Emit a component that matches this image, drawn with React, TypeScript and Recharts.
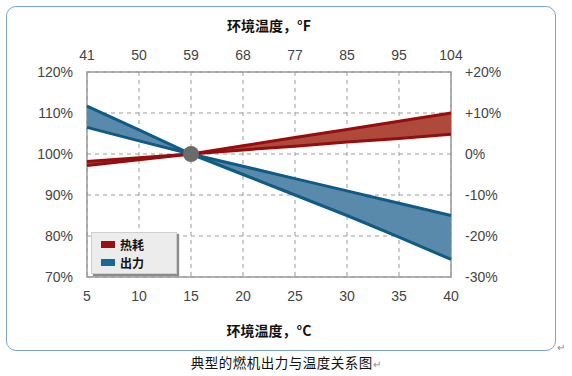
import React from "react";
import { Area, CartesianGrid, ComposedChart, Line, ReferenceArea, ReferenceDot, XAxis, YAxis } from "recharts";

const celsius = [5, 10, 15, 20, 25, 30, 35, 40];
const fahrenheitLabels = ["41", "50", "59", "68", "77", "85", "95", "104"];
const leftTicks = [70, 80, 90, 100, 110, 120];
const rightTicks = [-30, -20, -10, 0, 10, 20];

// 热耗 band edges (% of rated)
const heatSteep = [97.2, 98.6, 100, 102, 104, 106, 108, 110];
const heatFlat = [98.2, 99.1, 100, 101, 101.9, 102.9, 103.8, 104.8];
// 出力 band edges
const powerSteep = [111.7, 105.9, 100, 95, 90, 85, 79.7, 74.3];
const powerFlat = [106.5, 103.2, 100, 97, 94, 91, 88, 85];

const data = celsius.map((c, i) => ({
  c,
  heatSteep: heatSteep[i],
  heatFlat: heatFlat[i],
  heatBand: [heatSteep[i], heatFlat[i]],
  powerSteep: powerSteep[i],
  powerFlat: powerFlat[i],
  powerBand: [powerSteep[i], powerFlat[i]],
  // same curve expressed as deviation, keeps the right-hand axis attached
  powerDelta: powerFlat[i] - 100,
}));

const tickStyle = { fill: "#444", fontSize: 14, fontFamily: "Liberation Sans, Arial, sans-serif" };
const RED_LINE = "#960d0d";
const RED_FILL = "#ad4a3b";
const BLUE_LINE = "#0e5b86";
const BLUE_FILL = "#5a8aab";

export default function App() {
  return (
    <div style={{ position: "absolute", left: 0, top: 0, width: 572, height: 376, background: "#fff", fontFamily: "Noto Sans CJK SC, sans-serif" }}>
      <div
        style={{
          position: "absolute",
          left: 6,
          top: 6,
          width: 548,
          height: 343,
          border: "1px solid #7aa3dc",
          borderRadius: 10,
        }}
      />
      <ComposedChart
        width={572}
        height={376}
        data={data}
        margin={{ top: 42, right: 61, bottom: 69, left: 27 }}
        style={{ position: "absolute", left: 0, top: 0 }}
      >
        <CartesianGrid stroke="#9a9a9a" strokeDasharray="4 4" xAxisId="bottom" yAxisId="left" />
        <XAxis
          xAxisId="bottom"
          dataKey="c"
          type="number"
          domain={[5, 40]}
          ticks={celsius}
          axisLine={false}
          tickLine={false}
          tickSize={0}
          tickMargin={14}
          height={30}
          tick={tickStyle}
        />
        <XAxis
          xAxisId="top"
          orientation="top"
          dataKey="c"
          type="number"
          domain={[5, 40]}
          ticks={celsius}
          tickFormatter={(v: number) => fahrenheitLabels[celsius.indexOf(v)]}
          axisLine={false}
          tickLine={false}
          tickSize={0}
          tickMargin={12}
          height={30}
          tick={tickStyle}
        />
        <YAxis
          yAxisId="left"
          domain={[70, 120]}
          ticks={leftTicks}
          tickFormatter={(v: number) => `${v}%`}
          axisLine={false}
          tickLine={false}
          tickSize={0}
          tickMargin={14}
          width={60}
          tick={tickStyle}
        />
        <YAxis
          yAxisId="right"
          orientation="right"
          domain={[-30, 20]}
          ticks={rightTicks}
          allowDataOverflow
          tickFormatter={(v: number) => (v > 0 ? `+${v}%` : `${v}%`)}
          axisLine={false}
          tickLine={false}
          tickSize={0}
          tickMargin={14}
          width={60}
          tick={tickStyle}
        />
        <ReferenceArea
          xAxisId="bottom"
          yAxisId="left"
          x1={5}
          x2={40}
          y1={70}
          y2={120}
          fill="none"
          fillOpacity={0}
          stroke="#9a9a9a"
          strokeWidth={1.5}
        />
        <Line xAxisId="top" yAxisId="right" dataKey="powerDelta" type="linear" stroke="none" dot={false} activeDot={false} isAnimationActive={false} />
        <Area xAxisId="bottom" yAxisId="left" dataKey="powerBand" type="linear" fill={BLUE_FILL} fillOpacity={1} stroke="none" isAnimationActive={false} />
        <Line xAxisId="bottom" yAxisId="left" dataKey="powerSteep" type="linear" stroke={BLUE_LINE} strokeWidth={3} dot={false} isAnimationActive={false} />
        <Line xAxisId="bottom" yAxisId="left" dataKey="powerFlat" type="linear" stroke={BLUE_LINE} strokeWidth={3} dot={false} isAnimationActive={false} />
        <Area xAxisId="bottom" yAxisId="left" dataKey="heatBand" type="linear" fill={RED_FILL} fillOpacity={1} stroke="none" isAnimationActive={false} />
        <Line xAxisId="bottom" yAxisId="left" dataKey="heatSteep" type="linear" stroke={RED_LINE} strokeWidth={3} dot={false} isAnimationActive={false} />
        <Line xAxisId="bottom" yAxisId="left" dataKey="heatFlat" type="linear" stroke={RED_LINE} strokeWidth={3} dot={false} isAnimationActive={false} />
        <ReferenceDot xAxisId="bottom" yAxisId="left" x={15} y={100} r={8} fill="#6b6b6b" stroke="none" />
      </ComposedChart>

      <div style={{ position: "absolute", left: 0, width: 538, top: 15, textAlign: "center", fontSize: 14, fontWeight: 700, color: "#111" }}>
        环境温度，°F
      </div>
      <div style={{ position: "absolute", left: 0, width: 538, top: 320, textAlign: "center", fontSize: 14, fontWeight: 700, color: "#111" }}>
        环境温度，°C
      </div>

      <div
        style={{
          position: "absolute",
          left: 91,
          top: 232,
          width: 84,
          height: 40,
          background: "#ececec",
          border: "1px solid #cfcfcf",
          boxShadow: "2px 2px 1px #8c8c8c",
          fontSize: 12,
          fontWeight: 700,
          color: "#111",
        }}
      >
        {[
          { name: "热耗", color: "#9b1010" },
          { name: "出力", color: "#166998" },
        ].map((item, i) => (
          <div key={item.name} style={{ position: "absolute", left: 9, top: 3 + i * 18, height: 16, display: "flex", alignItems: "center" }}>
            <span style={{ display: "inline-block", width: 14, height: 7, background: item.color, marginRight: 5 }} />
            <span>{item.name}</span>
          </div>
        ))}
      </div>

      <div style={{ position: "absolute", left: 0, width: 572, top: 352, textAlign: "center", fontSize: 13.5, color: "#111", letterSpacing: 0.5 }}>
        典型的燃机出力与温度关系图<span style={{ color: "#888", fontSize: 10 }}>↵</span>
      </div>
      <div style={{ position: "absolute", left: 557, top: 339, color: "#888", fontSize: 10 }}>↵</div>
    </div>
  );
}
